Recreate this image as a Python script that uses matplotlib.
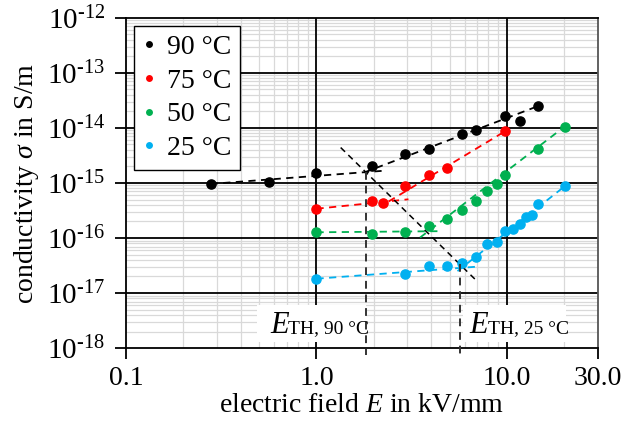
import matplotlib
matplotlib.use("Agg")
import matplotlib.pyplot as plt
from matplotlib.patches import Rectangle
from matplotlib.ticker import FixedLocator, NullFormatter, LogLocator

plt.rcParams['font.family'] = ['Liberation Serif', 'DejaVu Serif']
plt.rcParams['mathtext.fontset'] = 'custom'
plt.rcParams['mathtext.rm'] = 'Liberation Serif'
plt.rcParams['mathtext.it'] = 'Liberation Serif:italic'

# measured points (E in kV/mm, sigma in S/m)
e_90 = [0.278, 0.56, 1.0, 1.95, 2.93, 3.89, 5.84, 6.84, 9.78, 11.7, 14.6]
s_90 = [9.6e-16, 1.05e-15, 1.5e-15, 2.06e-15, 3.4e-15, 4.2e-15, 7.9e-15, 9.2e-15, 1.67e-14, 1.36e-14, 2.5e-14]

e_75 = [1.0, 1.95, 2.24, 2.93, 3.89, 4.87, 9.78]
s_75 = [3.4e-16, 4.8e-16, 4.3e-16, 8.7e-16, 1.38e-15, 1.9e-15, 8.7e-15]

e_50 = [1.0, 1.95, 2.93, 3.9, 4.87, 5.84, 6.84, 7.83, 8.83, 9.78, 14.6, 20.1]
s_50 = [1.27e-16, 1.18e-16, 1.29e-16, 1.67e-16, 2.2e-16, 3.27e-16, 4.8e-16, 7.2e-16, 9.6e-16, 1.38e-15, 4.2e-15, 1.06e-14]

e_25 = [1.0, 2.93, 3.9, 4.87, 5.84, 6.84, 7.83, 8.83, 9.78, 10.7, 11.7, 12.6, 13.6, 14.6, 20.1]
s_25 = [1.82e-17, 2.24e-17, 3.06e-17, 3.14e-17, 3.55e-17, 4.45e-17, 7.7e-17, 8.6e-17, 1.34e-16,
        1.48e-16, 1.8e-16, 2.38e-16, 2.65e-16, 4.2e-16, 8.7e-16]

# fitted lines: (E start, E end), (sigma start, sigma end)
fit_90_low = ([0.278, 2.27], [9.6e-16, 1.67e-15])
fit_90_high = ([1.78, 14.6], [1.55e-15, 2.5e-14])
fit_75_low = ([1.0, 3.04], [3.4e-16, 5.05e-16])
fit_75_high = ([2.39, 9.78], [4.6e-16, 8.7e-15])
fit_50_low = ([1.0, 4.4], [1.27e-16, 1.33e-16])
fit_50_high = ([3.5, 20.1], [1.02e-16, 1.06e-14])
fit_25_low = ([1.0, 6.84], [1.82e-17, 3.0e-17])
fit_25_high = ([5.5, 20.1], [2.5e-17, 8.7e-16])
diag = ([1.34, 6.78], [4.4e-15, 1.8e-17])

e_th_90 = 1.82
s_th_90 = 1.6e-15
e_th_25 = 5.70
s_th_25 = 3.3e-17

labels = ['90 °C', '75 °C', '50 °C', '25 °C']
colors = ['black', '#FF0000', '#00B050', '#00B0F0']

fig = plt.figure(figsize=(6.38, 4.25), dpi=100)
ax = fig.add_axes([0.1975, 0.181, 0.7395, 0.777])
ax.set_xscale('log')
ax.set_yscale('log')
ax.set_xlim(0.1, 30)
ax.set_ylim(1e-18, 1e-12)

# grid: light minor lines, black decade lines on top of them
ax.set_axisbelow(True)
ax.xaxis.set_minor_locator(LogLocator(base=10, subs=range(2, 10)))
ax.yaxis.set_minor_locator(LogLocator(base=10, subs=range(2, 10), numticks=20))
ax.xaxis.set_minor_formatter(NullFormatter())
ax.yaxis.set_minor_formatter(NullFormatter())
ax.grid(which='minor', color='#D9D9D9', lw=0.9)
ax.tick_params(which='minor', length=0)
ax.tick_params(which='major', length=8, width=1.3, direction='out', labelsize=20)
ax.tick_params(axis='y', pad=7, labelsize=21)
ax.tick_params(axis='x', pad=5)

xt = [0.1, 1, 10, 30]
ax.xaxis.set_major_locator(FixedLocator(xt))
ax.set_xticklabels(['0.1', '1.0', '10.0', '30.0'])
yt = [1e-18, 1e-17, 1e-16, 1e-15, 1e-14, 1e-13, 1e-12]
ax.yaxis.set_major_locator(FixedLocator(yt))
ax.set_yticklabels(['$\\mathregular{10^{\u2010%d}}$' % k for k in [18, 17, 16, 15, 14, 13, 12]])
for v in [1, 10]:
    ax.axvline(v, color='black', lw=1.3, zorder=1)
for v in yt[1:-1]:
    ax.axhline(v, color='black', lw=1.3, zorder=1)

for sp in ax.spines.values():
    sp.set_linewidth(1.3)
ax.spines['right'].set_color('#555555')

fits = [(fit_90_low, fit_90_high), (fit_75_low, fit_75_high),
        (fit_50_low, fit_50_high), (fit_25_low, fit_25_high)]
data = [(e_90, s_90), (e_75, s_75), (e_50, s_50), (e_25, s_25)]
for (ex, sy), (lo, hi), c, lab in zip(data, fits, colors, labels):
    for f in (lo, hi):
        ax.plot(f[0], f[1], ls=(0, (4, 3)), color=c, lw=1.3, zorder=3)
    ax.plot(ex, sy, 'o', color=c, ms=6.6, zorder=4, label=lab)

ax.plot(diag[0], diag[1], ls=(0, (4, 3)), color='black', lw=1.1, zorder=3)

# threshold markers
for et, st in [(e_th_90, s_th_90), (e_th_25, s_th_25)]:
    ax.plot([et, et], [st, 0.74e-18], ls=(0, (4, 3)), color='#333333', lw=1.4,
            zorder=5, clip_on=False)

# white boxes behind the threshold labels
ax.add_patch(Rectangle((0.49, 1.29e-18), 1.81 - 0.49, 6.05e-18 - 1.29e-18,
                       facecolor='white', edgecolor='none', zorder=2))
ax.add_patch(Rectangle((5.91, 1.29e-18), 20.5 - 5.91, 6.05e-18 - 1.29e-18,
                       facecolor='white', edgecolor='none', zorder=2))
for ex0, temp in [(0.713, '90 °C'), (8.0, '25 °C')]:
    ax.text(ex0, 1.9e-18, 'E', fontsize=22, style='italic', ha='right', va='baseline', zorder=6)
    ax.text(ex0, 1.84e-18, 'TH, ' + temp, fontsize=14, ha='left', va='baseline', zorder=6)

leg = ax.legend(loc='upper left', bbox_to_anchor=(0.017, 0.975), fontsize=20, markerscale=0.6,
                handlelength=0.5, handletextpad=0.4, borderpad=0.3, labelspacing=0.3,
                fancybox=False, framealpha=1, edgecolor='black', borderaxespad=0)
leg.get_frame().set_linewidth(1.0)

ax.set_xlabel(r'electric field $E$ in kV/mm', fontsize=20, labelpad=1)
ax.set_ylabel(r'conductivity $\sigma$ in S/m', fontsize=20, labelpad=4)

fig.savefig('out.png', dpi=100)
